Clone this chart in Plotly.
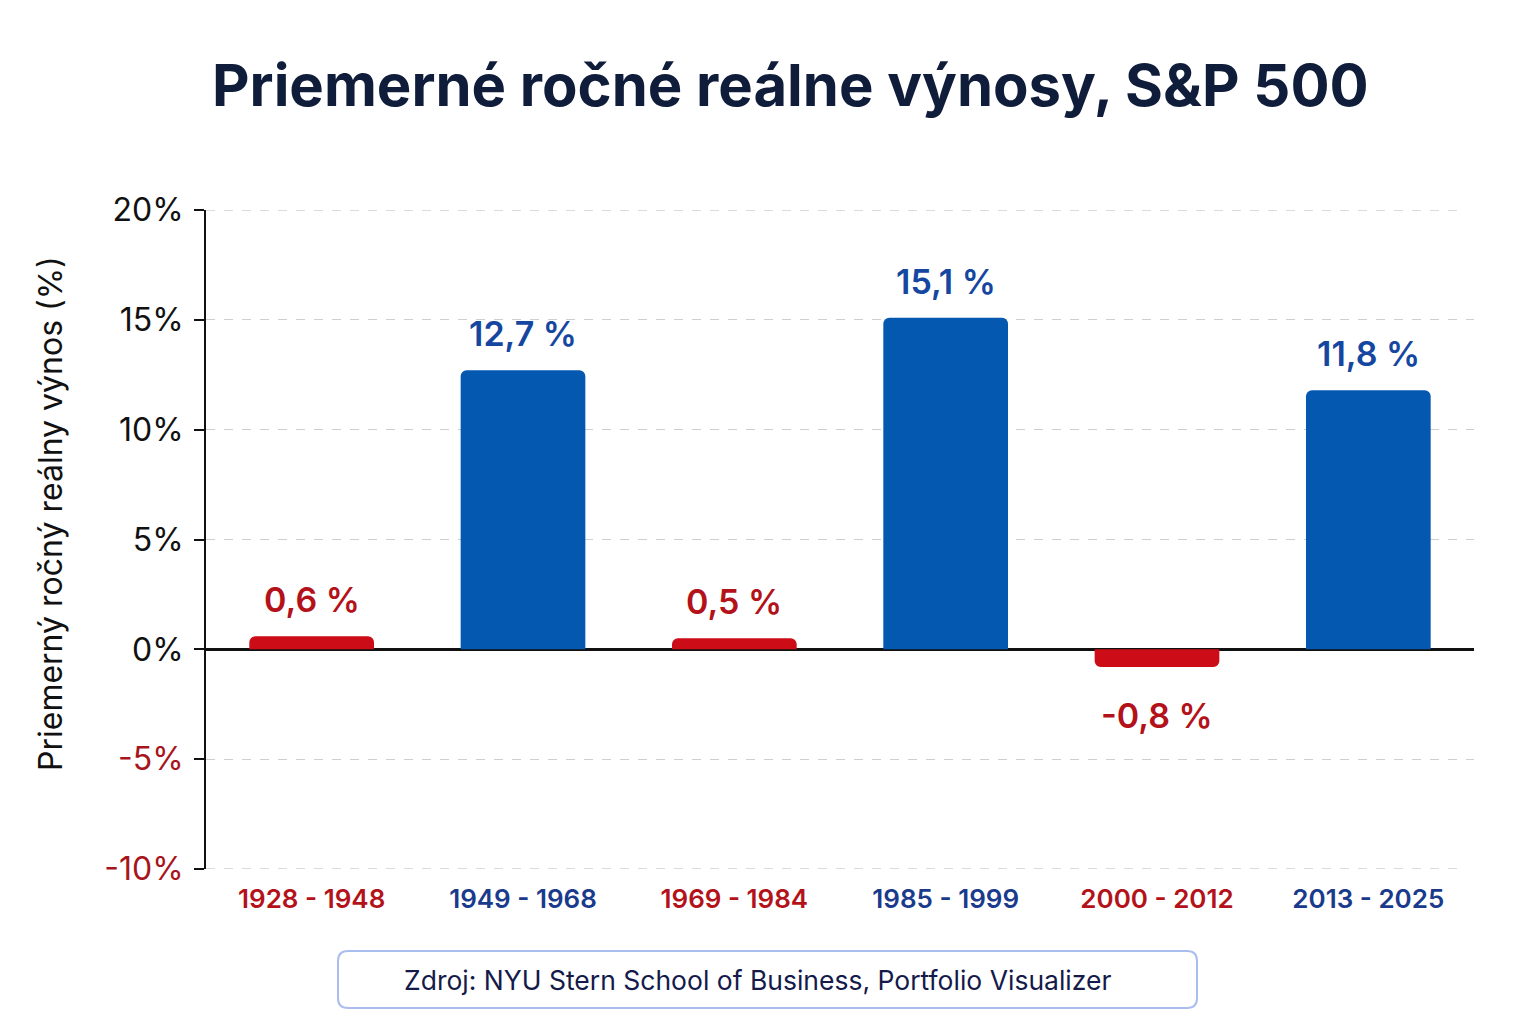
import plotly.graph_objects as go

# data
periods = ["1928 - 1948", "1949 - 1968", "1969 - 1984", "1985 - 1999", "2000 - 2012", "2013 - 2025"]
returns = [0.6, 12.7, 0.5, 15.1, -0.8, 11.8]
label_text = ["0,6 %", "12,7 %", "0,5 %", "15,1 %", "-0,8 %", "11,8 %"]
y_ticks = [-10, -5, 0, 5, 10, 15, 20]
y_tick_labels = ["-10%", "-5%", "0%", "5%", "10%", "15%", "20%"]

RED_BAR = "#cc0d18"
BLUE_BAR = "#0558b0"
RED_TXT = "#b3121a"
BLUE_TXT = "#1546a0"
NAVY = "#0f1c3a"

W, H = 1536, 1024
OFF = 8  # page body margin
L, R, T, B = 198, 70, 202, 163  # plot area in px


def px_x(x):
    return (x - OFF - L) / (W - L - R)


def px_y(y):
    return (H - B - (y - OFF)) / (H - T - B)


bar_colors = [RED_BAR if v < 3 else BLUE_BAR for v in returns]
period_labels = [
    f'<span style="color:{RED_TXT if v < 3 else "#1a3a8c"}">{p}</span>'
    for p, v in zip(periods, returns)
]
ytick_txt = [
    f'<span style="color:{"#a8141b" if t < 0 else "#111111"}">{s}</span>'
    for t, s in zip(y_ticks, y_tick_labels)
]

fig = go.Figure()
fig.add_trace(go.Bar(
    x=periods,
    y=returns,
    marker=dict(color=bar_colors, cornerradius=6, line=dict(width=0)),
    width=0.59,
    hoverinfo="skip",
))

# value labels
for p, v, t in zip(periods, returns, label_text):
    fig.add_annotation(
        x=p, y=v, text=t, showarrow=False,
        yanchor="bottom" if v >= 0 else "top",
        yshift=14 if v >= 0 else -26,
        font=dict(family="Inter", size=34, weight=600,
                  color=RED_TXT if v < 3 else BLUE_TXT),
    )

# dashed lines at the range ends
for yv in [y_ticks[0], y_ticks[-1]]:
    fig.add_shape(type="line", xref="paper", yref="y", x0=0, x1=0.99, y0=yv, y1=yv,
                  line=dict(color="#cfcfcf", width=1.3, dash="dash"), layer="below")

# rounded source box
x0, x1, y0, y1, r = 338, 1197, 951, 1008, 10
path = (
    f"M {px_x(x0 + r)} {px_y(y0)} L {px_x(x1 - r)} {px_y(y0)} "
    f"Q {px_x(x1)} {px_y(y0)} {px_x(x1)} {px_y(y0 + r)} "
    f"L {px_x(x1)} {px_y(y1 - r)} "
    f"Q {px_x(x1)} {px_y(y1)} {px_x(x1 - r)} {px_y(y1)} "
    f"L {px_x(x0 + r)} {px_y(y1)} "
    f"Q {px_x(x0)} {px_y(y1)} {px_x(x0)} {px_y(y1 - r)} "
    f"L {px_x(x0)} {px_y(y0 + r)} "
    f"Q {px_x(x0)} {px_y(y0)} {px_x(x0 + r)} {px_y(y0)} Z"
)
fig.add_shape(type="path", path=path, xref="paper", yref="paper",
              line=dict(color="#a9bdee", width=2), fillcolor="white", layer="below")

fig.add_annotation(text="Zdroj: NYU Stern School of Business, Portfolio Visualizer",
                   x=px_x(757), y=px_y(980), xref="paper", yref="paper", showarrow=False,
                   xanchor="center", yanchor="middle",
                   font=dict(family="Inter", size=26.5, color="#141a4a"))

fig.add_annotation(text="Priemerné ročné reálne výnosy, S&P 500",
                   x=px_x(790), y=px_y(85), xref="paper", yref="paper", showarrow=False,
                   xanchor="center", yanchor="middle",
                   font=dict(family="Inter", size=58, color=NAVY, weight=700))

fig.add_annotation(text="Priemerný ročný reálny výnos (%)",
                   x=px_x(50), y=px_y(514), xref="paper", yref="paper", showarrow=False,
                   xanchor="center", yanchor="middle", textangle=-90,
                   font=dict(family="Inter", size=32, color="#111111"))

fig.update_layout(
    width=W, height=H,
    margin=dict(l=L, r=R, t=T, b=B),
    paper_bgcolor="white",
    plot_bgcolor="white",
    showlegend=False,
)
fig.update_xaxes(
    tickvals=periods,
    ticktext=period_labels,
    tickfont=dict(family="Inter", size=26, weight=600),
    ticklabelstandoff=12,
    showgrid=False,
    showline=False,
    ticks="",
)
fig.update_yaxes(
    range=[-10, 20],
    tickvals=y_ticks,
    ticktext=ytick_txt,
    tickfont=dict(family="Inter", size=32),
    showline=True, linecolor="#111111", linewidth=2,
    ticks="outside", ticklen=10, tickwidth=2, tickcolor="#111111",
    ticklabelstandoff=4,
    showgrid=True, gridcolor="#cfcfcf", griddash="dash", gridwidth=1.3,
    zeroline=True, zerolinecolor="#111111", zerolinewidth=3,
)

fig.write_html("out.html")
